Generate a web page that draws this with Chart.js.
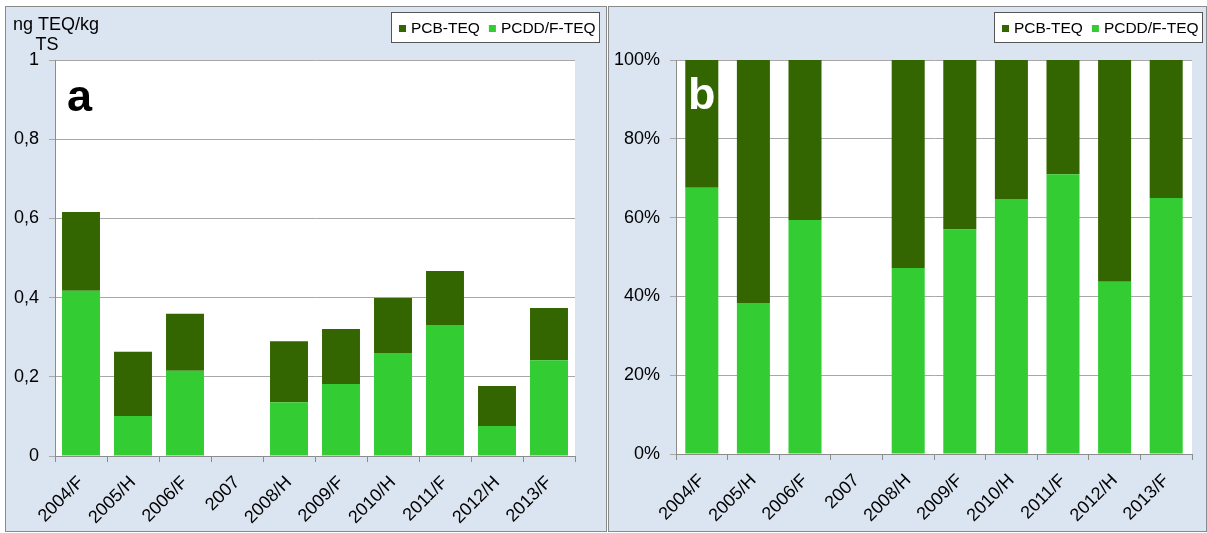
<!DOCTYPE html>
<html>
<head>
<meta charset="utf-8">
<script src="https://cdn.jsdelivr.net/npm/chart.js@4.4.1/dist/chart.umd.min.js"></script>
<style>
    body { margin: 0; background: #fff; width: 1207px; height: 533px; overflow: hidden; position: relative; }
    .panel { position: absolute; top: 6px; height: 524px; background: #dbe5f1; border: 1px solid #8a8a8a; }
    #panelA { left: 5px; width: 600px; }
    #panelB { left: 608px; width: 597px; }
    canvas { position: absolute; top: 0; }
    #chartA { left: 0; }
    #chartB { left: 608px; }
</style>
</head>
<body>
<div class="panel" id="panelA"></div>
<div class="panel" id="panelB"></div>
<canvas id="chartA" width="607" height="533"></canvas>
<canvas id="chartB" width="599" height="533"></canvas>
<script>
// ===== DATA =====
const years = ['2004/F', '2005/H', '2006/F', '2007', '2008/H', '2009/F', '2010/H', '2011/F', '2012/H', '2013/F'];

// panel a: ng TEQ/kg TS
const pcddTeq = [0.417, 0.101, 0.215, null, 0.136, 0.182, 0.260, 0.331, 0.076, 0.242];
const pcbTeq  = [0.199, 0.162, 0.144, null, 0.154, 0.139, 0.139, 0.136, 0.101, 0.132];

// panel b: share in %
const pcddPct = [67.6, 38.3, 59.4, null, 47.2, 57.0, 64.7, 71.0, 43.7, 65.0];
const pcbPct  = [32.4, 61.7, 40.6, null, 52.8, 43.0, 35.3, 29.0, 56.3, 35.0];

const ticksA = ['0', '0,2', '0,4', '0,6', '0,8', '1'];
const ticksB = ['0%', '20%', '40%', '60%', '80%', '100%'];

const COLOR_PCDD = '#33cc33';
const COLOR_PCB = '#336600';
const FONT = "'Liberation Sans', Arial, sans-serif";

// ===== DRAW HELPERS =====
function drawLegend(chart, right, top) {
    const ctx = chart.ctx;
    const items = chart.data.datasets.slice().reverse();
    ctx.save();
    ctx.font = '15.5px ' + FONT;
    const widths = items.map(d => ctx.measureText(d.label).width);
    const sq = 7, gapSq = 5, gapItem = 9, padL = 8, padR = 4, h = 31;
    const w = Math.round(padL + padR + widths.reduce((s, v) => s + v + sq + gapSq, 0) + gapItem * (items.length - 1));
    const left = Math.round(right - w);
    ctx.fillStyle = '#fff';
    ctx.fillRect(left, top, w, h);
    ctx.strokeStyle = '#555';
    ctx.lineWidth = 1;
    ctx.strokeRect(left + 0.5, top + 0.5, w - 1, h - 1);
    let x = left + padL;
    const cy = top + h / 2;
    ctx.textBaseline = 'middle';
    items.forEach((d, i) => {
        ctx.fillStyle = d.backgroundColor;
        ctx.fillRect(x, Math.round(cy - sq / 2) + 1, sq, sq);
        x += sq + gapSq;
        ctx.fillStyle = '#000';
        ctx.fillText(d.label, x, cy + 1);
        x += widths[i] + gapItem;
    });
    ctx.restore();
}

function decorPlugin(cfg) {
    return {
        id: 'decor',
        beforeDraw(chart) {
            const { ctx, chartArea: a } = chart;
            ctx.save();
            ctx.fillStyle = '#fff';
            ctx.fillRect(a.left, a.top, a.right - a.left, a.bottom - a.top);
            ctx.restore();
        },
        afterDatasetsDraw(chart) {
            const { ctx, chartArea: a } = chart;
            ctx.save();
            ctx.font = 'bold 45px ' + FONT;
            ctx.fillStyle = cfg.letterColor;
            ctx.fillText(cfg.letter, a.left + cfg.letterDx, a.top + cfg.letterDy);
            ctx.restore();
        },
        afterDraw(chart) {
            drawLegend(chart, cfg.legendRight, 12);
            if (cfg.yTitle) {
                const ctx = chart.ctx;
                ctx.save();
                ctx.font = '18px ' + FONT;
                ctx.fillStyle = '#000';
                ctx.textAlign = 'left';
                ctx.fillText(cfg.yTitle[0], 13, 30);
                ctx.textAlign = 'center';
                ctx.fillText(cfg.yTitle[1], 47, 50);
                ctx.restore();
            }
        }
    };
}

// ===== CHARTS =====
function makeChart(id, cfg) {
    return new Chart(document.getElementById(id), {
        type: 'bar',
        data: {
            labels: years,
            datasets: [
                { label: 'PCDD/F-TEQ', data: cfg.bottom, backgroundColor: COLOR_PCDD, borderWidth: 0 },
                { label: 'PCB-TEQ', data: cfg.top, backgroundColor: COLOR_PCB, borderWidth: 0 }
            ]
        },
        options: {
            responsive: false,
            animation: false,
            categoryPercentage: 1,
            barPercentage: cfg.barPct,
            layout: { padding: { top: 60, right: cfg.padRight, left: 0, bottom: 0 } },
            plugins: {
                legend: { display: false },
                tooltip: { enabled: false }
            },
            scales: {
                x: {
                    stacked: true,
                    grid: { display: true, drawOnChartArea: false, tickLength: 6, color: '#8c8c8c', offset: true },
                    border: { display: true, color: '#8c8c8c' },
                    ticks: {
                        autoSkip: false,
                        minRotation: 45,
                        maxRotation: 45,
                        padding: 10,
                        color: '#000',
                        font: { size: 18, family: FONT }
                    },
                    afterFit(scale) { scale.height = 533 - cfg.bottomY; }
                },
                y: {
                    stacked: true,
                    min: 0,
                    max: cfg.yMax,
                    grid: { color: '#a8a8a8', tickLength: 6 },
                    border: { display: true, color: '#8c8c8c' },
                    ticks: {
                        stepSize: cfg.yMax / 5,
                        padding: 10,
                        color: '#000',
                        font: { size: 18, family: FONT },
                        callback: (v, i) => cfg.tickLabels[i]
                    },
                    afterFit(scale) { scale.width = cfg.yWidth; }
                }
            }
        },
        plugins: [decorPlugin(cfg)]
    });
}

makeChart('chartA', {
    bottom: pcddTeq, top: pcbTeq, yMax: 1, tickLabels: ticksA,
    yWidth: 55, padRight: 32, bottomY: 456, barPct: 0.73,
    letter: 'a', letterColor: '#000', letterDx: 12, letterDy: 51,
    legendRight: 600, yTitle: ['ng TEQ/kg', 'TS']
});

makeChart('chartB', {
    bottom: pcddPct, top: pcbPct, yMax: 100, tickLabels: ticksB,
    yWidth: 68, padRight: 15, bottomY: 454, barPct: 0.64,
    letter: 'b', letterColor: '#fff', letterDx: 12, letterDy: 49,
    legendRight: 595, yTitle: null
});
</script>
</body>
</html>
